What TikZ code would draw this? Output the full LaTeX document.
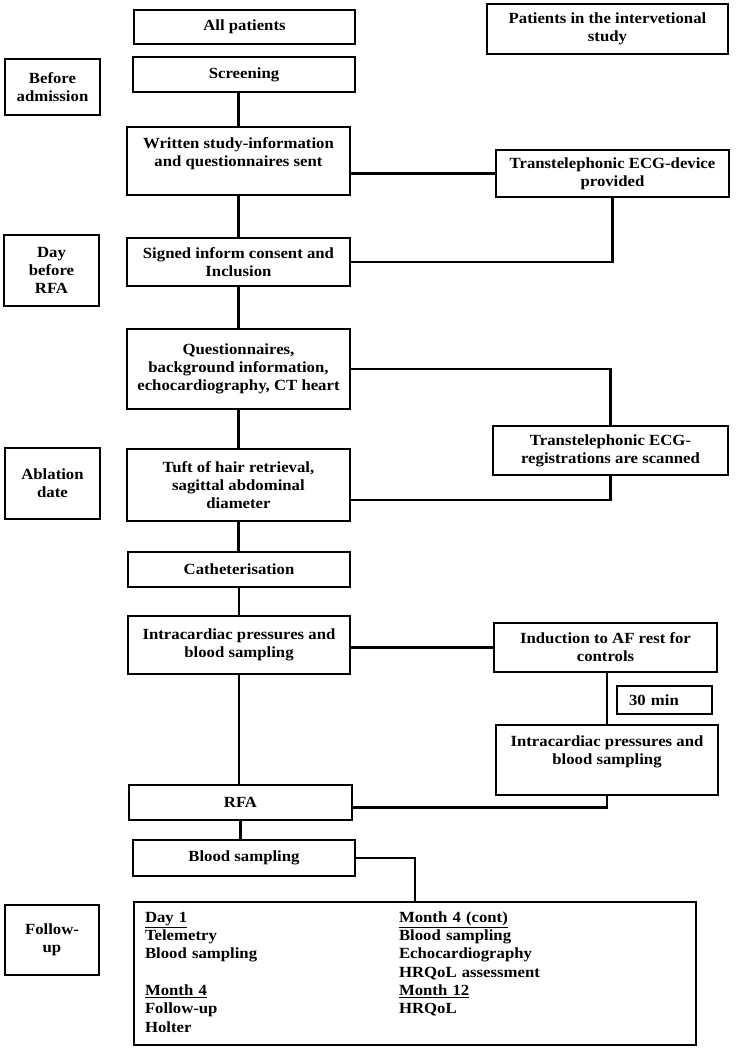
\documentclass[tikz,border=0pt]{standalone}
\usepackage{fontspec}
\setmainfont{Liberation Serif}[FakeStretch=1.08]
\begin{document}
\begin{tikzpicture}[x=1pt,y=-1pt,
  box/.style={draw, line width=2.5pt, rectangle, align=center, inner sep=2pt,
    font=\fontsize{15.5}{18}\selectfont\bfseries},
  conn/.style={line width=2.3pt}]
\useasboundingbox (0,0) rectangle (737,1050);
% left timeline boxes
\node[box, minimum width=95pt, minimum height=56pt] (before) at (52.5,87) {Before\\admission};
\node[box, minimum width=95pt, minimum height=71pt] (daybefore) at (51.5,270.5) {Day\\before\\RFA};
\node[box, minimum width=95pt, minimum height=71pt] (ablation) at (52.5,483.5) {Ablation\\date};
\node[box, minimum width=94pt, minimum height=70pt] (followup) at (52,940) {Follow-\\up};
% main column
\node[box, minimum width=221pt, minimum height=34pt] (allp) at (244.5,27) {All patients};
\node[box, minimum width=222pt, minimum height=35pt] (screen) at (244,74.5) {Screening};
\node[box, minimum width=223pt, minimum height=68pt, text depth=18pt] (written) at (238.5,161) {Written study-information\\and questionnaires sent};
\node[box, minimum width=223pt, minimum height=48pt] (signed) at (238.5,262) {Signed inform consent and\\Inclusion};
\node[box, minimum width=223pt, minimum height=80pt] (quest) at (238.5,369) {Questionnaires,\\background information,\\echocardiography, CT heart};
\node[box, minimum width=223pt, minimum height=72pt] (tuft) at (238.5,485) {Tuft of hair retrieval,\\sagittal abdominal\\diameter};
\node[box, minimum width=222pt, minimum height=35pt] (cath) at (239,569.5) {Catheterisation};
\node[box, minimum width=222pt, minimum height=58pt] (intra) at (239,645) {Intracardiac pressures and\\blood sampling};
\node[box, minimum width=223pt, minimum height=35pt] (rfa) at (240.5,802.5) {RFA};
\node[box, minimum width=222pt, minimum height=36pt] (blood) at (244,858) {Blood sampling};
% right column
\node[box, minimum width=241pt, minimum height=50pt] (interv) at (607.5,29) {Patients in the intervetional\\study};
\node[box, minimum width=233pt, minimum height=47pt] (ecgdev) at (612.5,173.5) {Transtelephonic ECG-device\\provided};
\node[box, minimum width=235pt, minimum height=49pt] (ecgreg) at (610.5,450.5) {Transtelephonic ECG-\\registrations are scanned};
\node[box, minimum width=223pt, minimum height=49pt] (induct) at (605.5,647.5) {Induction to AF rest for\\controls};
\node[box, minimum height=28pt, text width=71pt, inner xsep=12pt, align=left] (thirty) at (664.5,700) {30 min};
\node[box, minimum width=222pt, minimum height=70pt, text depth=19pt] (intra2) at (607,760) {Intracardiac pressures and\\blood sampling};
% follow-up details
\node[box, text width=540pt, inner xsep=11pt, inner ysep=7.5pt, minimum height=143pt, align=left] (big) at (415,973.5) {%
\fontsize{15.5}{18.3}\selectfont\renewcommand{\arraystretch}{1}%
\begin{tabular}{@{}p{254pt}@{}l@{}}
\underline{Day 1} & \underline{Month 4 (cont)}\\
Telemetry & Blood sampling\\
Blood sampling & Echocardiography\\
 & HRQoL assessment\\
\underline{Month 4} & \underline{Month 12}\\
Follow-up & HRQoL\\
Holter & \\
\end{tabular}};
% connectors
\draw[conn] (written.north) -- (written.north |- screen.south);
\draw[conn] (ecgdev.west) -- (ecgdev.west -| written.east);
\draw[conn] (written.south) -- (written.south |- signed.north);
\draw[conn] (ecgdev.south) |- (signed.east);
\draw[conn] (signed.south) -- (signed.south |- quest.north);
\draw[conn] (quest.east) -| (ecgreg.north);
\draw[conn] (quest.south) -- (quest.south |- tuft.north);
\draw[conn] (ecgreg.south) |- ([yshift=-15pt]tuft.east);
\draw[conn] (tuft.south) -- (tuft.south |- cath.north);
\draw[conn] (cath.south) -- (cath.south |- intra.north);
\draw[conn] (induct.west) -- (induct.west -| intra.east);
\draw[conn] (intra2.north) -- (intra2.north |- induct.south);
\draw[conn] (intra.south) -- (intra.south |- rfa.north);
\draw[conn] (intra2.south) |- ([yshift=-5pt]rfa.east);
\draw[conn] (rfa.south) -- (rfa.south |- blood.north);
\draw[conn] (blood.east) -| (big.north);
\end{tikzpicture}
\end{document}
